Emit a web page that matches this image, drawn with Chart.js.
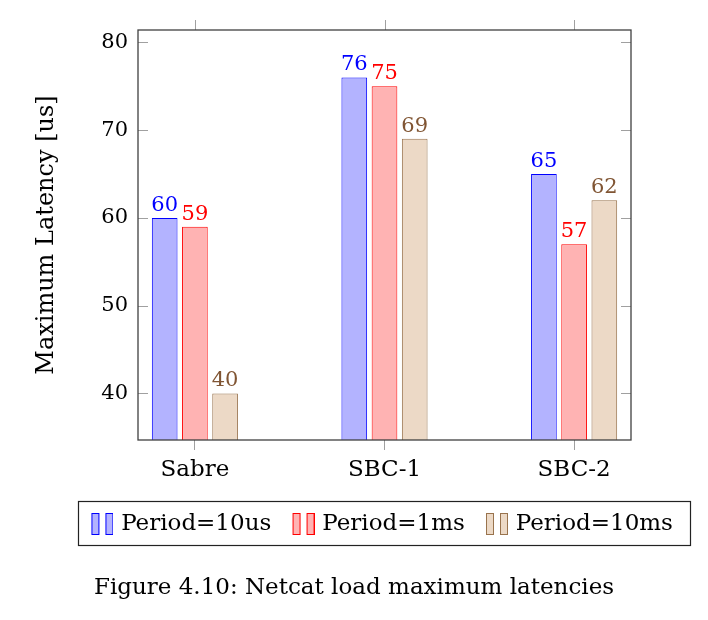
<!DOCTYPE html>
<html>
<head>
<meta charset="utf-8">
<script src="https://cdn.jsdelivr.net/npm/chart.js@4.4.0/dist/chart.umd.min.js"></script>
<style>
  html, body { margin: 0; padding: 0; background: #fff; }
</style>
</head>
<body>
<canvas id="chart" width="708" height="620"></canvas>
<script>
const categories = ["Sabre", "SBC-1", "SBC-2"];
const seriesNames = ["Period=10us", "Period=1ms", "Period=10ms"];
const period10us = [60, 76, 65];
const period1ms = [59, 75, 57];
const period10ms = [40, 69, 62];
const yTicks = [40, 50, 60, 70, 80];
const caption = "Figure 4.10: Netcat load maximum latencies";

const Y_MIN = 34.7, Y_MAX = 81.4;
const FAMILY = "'DejaVu Serif', serif";
const TEXT_FONT = { family: FAMILY, size: 23 };
const NUM_FONT = { family: FAMILY, size: 21 };

const palette = [
  { fill: "rgb(179,179,255)", line: "rgb(0,0,255)", text: "rgb(0,0,255)" },
  { fill: "rgb(255,179,179)", line: "rgb(255,0,0)", text: "rgb(255,0,0)" },
  { fill: "rgb(236,217,198)", line: "rgb(153,115,77)", text: "rgb(128,85,51)" },
];

// two little bars, like the pgfplots ybar legend image
function makeIcon(fill, line) {
  const c = document.createElement("canvas");
  c.width = 34; c.height = 24;
  const g = c.getContext("2d");
  g.fillStyle = fill; g.strokeStyle = line; g.lineWidth = 1;
  [12.5, 26.5].forEach(x0 => {
    g.fillRect(x0, 1.5, 7, 21);
    g.strokeRect(x0, 1.5, 7, 21);
  });
  return c;
}
const icons = palette.map(p => makeIcon(p.fill, p.line));

const seriesValues = [period10us, period1ms, period10ms];
const datasets = seriesValues.map((vals, i) => ({
  label: seriesNames[i],
  data: vals.map((v, k) => ({ x: k, y: v })),
  backgroundColor: palette[i].fill,
  borderColor: palette[i].line,
  borderWidth: 1,
  base: Y_MIN,
  categoryPercentage: 0.478,
  barPercentage: 0.85,
}));

const LEGEND_PAD = 13;

const framePlugin = {
  id: "frame",
  afterLayout(chart) {
    // center legend under the plot area, not the canvas
    const ca = chart.chartArea, lg = chart.legend;
    const shift = (ca.left + ca.right) / 2 - 6.5 - (lg.left + lg.right) / 2;
    lg.left += shift; lg.right += shift;
  },
  afterDatasetsDraw(chart) {
    const ctx = chart.ctx;
    ctx.save();
    ctx.font = `${NUM_FONT.size}px ${NUM_FONT.family}`;
    ctx.textAlign = "center";
    ctx.textBaseline = "alphabetic";
    chart.data.datasets.forEach((ds, i) => {
      chart.getDatasetMeta(i).data.forEach((bar, k) => {
        ctx.fillStyle = palette[i].text;
        ctx.fillText(String(ds.data[k].y), bar.x, bar.y - 7);
      });
    });
    ctx.restore();
  },
  afterDraw(chart) {
    const ctx = chart.ctx, ca = chart.chartArea;
    const xs = chart.scales.x, ys = chart.scales.y;
    ctx.save();
    ctx.strokeStyle = "#a0a0a0";
    ctx.lineWidth = 1;
    ctx.beginPath();
    categories.forEach((_, k) => {
      const px = Math.round(xs.getPixelForValue(k)) + 0.5;
      ctx.moveTo(px, ca.top); ctx.lineTo(px, ca.top - 10);
    });
    yTicks.forEach(v => {
      const py = Math.round(ys.getPixelForValue(v)) + 0.5;
      ctx.moveTo(ca.left, py); ctx.lineTo(ca.left + 10, py);
      ctx.moveTo(ca.right, py); ctx.lineTo(ca.right - 10, py);
    });
    ctx.stroke();

    ctx.strokeStyle = "#404040";
    ctx.lineWidth = 1.3;
    ctx.strokeRect(ca.left, ca.top, ca.right - ca.left, ca.bottom - ca.top);

    // legend frame
    const lg = chart.legend;
    const boxes = lg.legendHitBoxes;
    const rowW = boxes.reduce((s, b) => s + b.width, 0) + LEGEND_PAD * (boxes.length - 1);
    const mid = (lg.left + lg.right) / 2;
    const left = mid - rowW / 2 - 5, right = mid + rowW / 2 + 17;
    ctx.strokeStyle = "#222";
    ctx.lineWidth = 1.2;
    ctx.strokeRect(Math.round(left) + 0.5, Math.round(lg.top + 1) + 0.5, Math.round(right - left), 44);
    ctx.restore();
  },
};

new Chart(document.getElementById("chart"), {
  type: "bar",
  data: { datasets },
  options: {
    responsive: false,
    animation: false,
    devicePixelRatio: 1,
    layout: { padding: { top: 30, bottom: 18.2, left: 0, right: 0 } },
    scales: {
      x: {
        type: "linear",
        min: -0.3,
        max: 2.3,
        offset: false,
        afterBuildTicks: s => { s.ticks = categories.map((_, k) => ({ value: k })); },
        ticks: {
          callback: v => categories[v],
          font: TEXT_FONT, color: "#000", padding: 6.2, maxRotation: 0, autoSkip: false,
        },
        grid: {
          offset: false, drawOnChartArea: false, drawTicks: true,
          tickLength: 10, color: "#a0a0a0", lineWidth: 1,
        },
        border: { display: false },
        afterFit: s => { s.height = 59.5; },
      },
      y: {
        min: Y_MIN,
        max: Y_MAX,
        afterBuildTicks: s => { s.ticks = yTicks.map(v => ({ value: v })); },
        ticks: { font: NUM_FONT, color: "#000", padding: 10 },
        grid: { display: true, drawOnChartArea: false, drawTicks: false },
        border: { display: false },
        title: {
          display: true, text: "Maximum Latency [us]",
          font: { family: FAMILY, size: 24 }, color: "#000", padding: { top: 32, bottom: 0 },
        },
        afterFit: s => { s.width = 138; },
      },
      yr: {
        position: "right",
        display: true,
        ticks: { display: false },
        grid: { display: false },
        border: { display: false },
        afterFit: s => { s.width = 77; },
      },
    },
    plugins: {
      legend: {
        position: "bottom",
        labels: {
          usePointStyle: true,
          pointStyleWidth: 26.5,
          padding: LEGEND_PAD,
          font: TEXT_FONT,
          color: "#000",
          generateLabels: chart => chart.data.datasets.map((ds, i) => ({
            text: ds.label,
            pointStyle: icons[i],
            fillStyle: ds.backgroundColor,
            strokeStyle: ds.borderColor,
            lineWidth: 0,
            hidden: false,
            datasetIndex: i,
            fontColor: "#000",
          })),
        },
      },
      title: {
        display: true,
        position: "bottom",
        text: caption,
        font: { ...TEXT_FONT, weight: "normal" },
        color: "#000",
        padding: { top: 28.7, bottom: 0 },
      },
      tooltip: { enabled: false },
    },
  },
  plugins: [framePlugin],
});
</script>
</body>
</html>
